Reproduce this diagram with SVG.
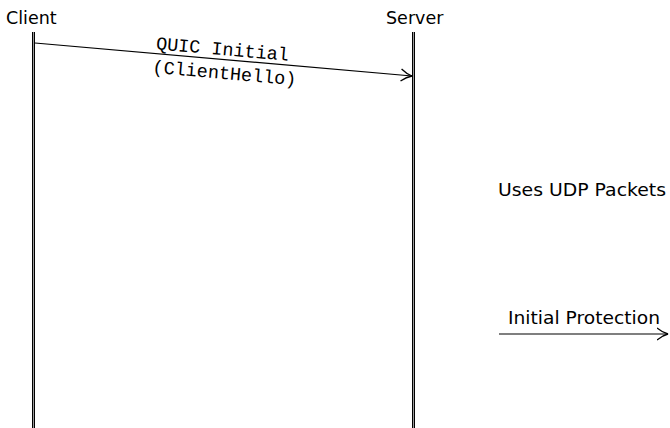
<svg xmlns="http://www.w3.org/2000/svg" width="670" height="428" viewBox="0 0 670 428">
  <style>
    .lbl { font-family: "DejaVu Sans", "Liberation Sans", sans-serif; font-size: 17.5px; fill: #000; }
    .mono { font-family: "Liberation Mono", "DejaVu Sans Mono", monospace; font-size: 18.5px; fill: #000; }
    .life { fill: #000; }
    .life-gap { fill: #9a9a9a; }
    .msg { stroke: #000; stroke-width: 1.2; fill: none; }
  </style>
  <defs>
    <marker id="arrow" viewBox="0 0 12 14" refX="11.5" refY="7" markerWidth="12" markerHeight="14" markerUnits="userSpaceOnUse" orient="auto">
      <path d="M0.5,1 Q6,5.6 11.5,7 Q6,8.4 0.5,13" fill="none" stroke="#000" stroke-width="1.3"/>
    </marker>
  </defs>

  <rect width="670" height="428" fill="#fff"/>

  <!-- lifelines are drawn as double rules -->
  <g id="client">
    <text class="lbl" x="6" y="24">Client</text>
    <rect class="life" x="32" y="32" width="3" height="396"/>
    <rect class="life-gap" x="33" y="32" width="1" height="396"/>
  </g>

  <g id="server">
    <text class="lbl" x="386" y="24">Server</text>
    <rect class="life" x="412" y="32" width="3" height="396"/>
    <rect class="life-gap" x="413" y="32" width="1" height="396"/>
  </g>

  <g id="udp-note">
    <text class="lbl" x="498" y="196" textLength="168" lengthAdjust="spacingAndGlyphs">Uses UDP Packets</text>
  </g>

  <g id="protection-legend">
    <text class="lbl" x="508" y="324" textLength="152" lengthAdjust="spacingAndGlyphs">Initial Protection</text>
    <line class="msg" x1="499" y1="334" x2="668" y2="334" marker-end="url(#arrow)"/>
  </g>

  <g id="connectors">
    <line class="msg" x1="35" y1="43" x2="412" y2="76" marker-end="url(#arrow)"/>
    <text class="mono" x="222" y="55" text-anchor="middle" transform="rotate(5 222 55)">QUIC Initial</text>
    <text class="mono" x="224" y="79" text-anchor="middle" transform="rotate(5 224 79)">(ClientHello)</text>
  </g>
</svg>
